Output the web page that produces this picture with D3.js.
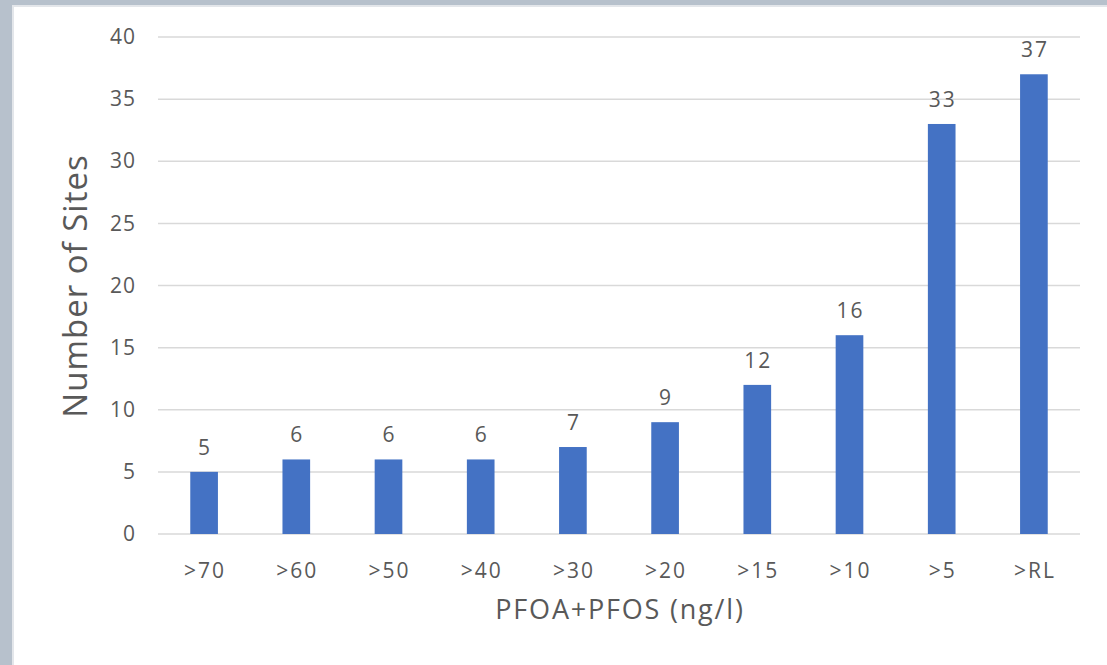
<!DOCTYPE html>
<html><head><meta charset="utf-8">
<script src="https://cdn.jsdelivr.net/npm/d3@7"></script>
<style>html,body{margin:0;padding:0;background:#fff;}svg{display:block;}</style>
</head><body>
<script>
const categories = [">70", ">60", ">50", ">40", ">30", ">20", ">15", ">10", ">5", ">RL"];
const values = [5, 6, 6, 6, 7, 9, 12, 16, 33, 37];
const yTicks = [0, 5, 10, 15, 20, 25, 30, 35, 40];
const xTitle = "PFOA+PFOS (ng/l)";
const yTitle = "Number of Sites";

const W = 1107, H = 665;
const svg = d3.select("body").append("svg").attr("width", W).attr("height", H);
const font = "'Open Sans', sans-serif";
const textColor = "#595959";

// frame
svg.append("rect").attr("x",0).attr("y",0).attr("width",W).attr("height",H).attr("fill","#b7c1cc");
svg.append("rect").attr("x",12).attr("y",5).attr("width",W-12).attr("height",H-5).attr("fill","#e3e6ea");
svg.append("rect").attr("x",14).attr("y",7).attr("width",W-14).attr("height",H-7).attr("fill","#ffffff");

const pLeft = 158, pRight = 1080, pTop = 37, pBottom = 534;
const x = d3.scaleBand().domain(categories).range([pLeft, pRight]).paddingInner(0.7).paddingOuter(0.35);
const y = d3.scaleLinear().domain([0, 40]).range([pBottom, pTop]);

const g = svg.append("g");
// gridlines
g.selectAll("line.grid").data(yTicks).enter().append("line")
  .attr("x1", pLeft).attr("x2", pRight)
  .attr("y1", d => y(d)).attr("y2", d => y(d))
  .attr("stroke", "#d9d9d9").attr("stroke-width", 1.5);

// y axis labels
const yAxis = d3.axisLeft(y).tickValues(yTicks).tickSize(0).tickPadding(0);
const ya = svg.append("g").attr("transform", `translate(${pLeft-22},0)`).call(yAxis);
ya.select(".domain").remove();
ya.selectAll("text").attr("font-family", font).attr("font-size", 21)
  .attr("letter-spacing", 1).attr("fill", textColor);

// x axis labels
const xAxis = d3.axisBottom(x).tickSize(0).tickPadding(0);
const xa = svg.append("g").attr("transform", `translate(1,578)`).call(xAxis);
xa.select(".domain").remove();
xa.selectAll("text").attr("dy", null).attr("y", 0)
  .attr("font-family", font).attr("font-size", 21).attr("letter-spacing", 2).attr("fill", textColor);

// bars
g.selectAll("rect.bar").data(values).enter().append("rect")
  .attr("x", (d,i) => x(categories[i]))
  .attr("width", x.bandwidth())
  .attr("y", d => y(d))
  .attr("height", d => y(0) - y(d))
  .attr("fill", "#4472c4");

// data labels
g.selectAll("text.lbl").data(values).enter().append("text")
  .attr("x", (d,i) => x(categories[i]) + x.bandwidth()/2 + 1)
  .attr("y", d => y(d) - 17)
  .attr("text-anchor", "middle")
  .attr("font-family", font).attr("font-size", 21).attr("letter-spacing", 2).attr("fill", textColor)
  .text(d => d);

// titles
svg.append("text").attr("x", 620).attr("y", 619)
  .attr("text-anchor", "middle").attr("font-family", font).attr("font-size", 27)
  .attr("letter-spacing", 1.8).attr("fill", textColor).text(xTitle);
svg.append("text").attr("transform", `translate(87,286) rotate(-90)`)
  .attr("text-anchor", "middle").attr("font-family", font).attr("font-size", 33)
  .attr("letter-spacing", 1).attr("fill", textColor).text(yTitle);
</script>
</body></html>
